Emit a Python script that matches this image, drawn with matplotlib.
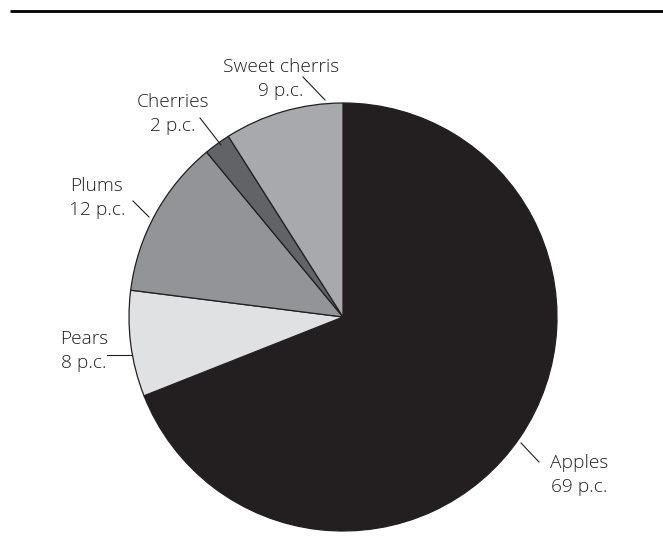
import matplotlib
matplotlib.use("Agg")
import matplotlib.pyplot as plt

# Data (clockwise from 12 o'clock)
categories = ["Apples", "Pears", "Plums", "Cherries", "Sweet cherris"]
values = [69, 8, 12, 2, 9]
value_labels = ["69 p.c.", "8 p.c.", "12 p.c.", "2 p.c.", "9 p.c."]
colors = ["#231f20", "#e0e1e3", "#929497", "#626366", "#a8a9ac"]

# Layout (pixel coordinates): label centre x, first baseline y
label_pos = [(579, 468), (84, 344), (97, 191), (173, 107), (281, 72)]
line_gap = 24
leaders = [((521, 443), (539, 462)),
           ((132, 355), (107, 355)),
           ((149, 217), (133, 201)),
           ((221, 145), (200, 118)),
           ((325, 100), (303, 77))]

W, H = 663, 554
fig = plt.figure(figsize=(W / 100, H / 100), dpi=100)
ax = fig.add_axes([0, 0, 1, 1])
ax.set_xlim(0, W)
ax.set_ylim(H, 0)
ax.set_aspect("equal")
ax.axis("off")

# top rule
ax.plot([10, W], [11, 11], color="black", lw=2.0, solid_capstyle="butt")

ax.pie(values, colors=colors, center=(343, 317), radius=214,
       startangle=-90, counterclock=True,
       wedgeprops=dict(edgecolor="#231f20", linewidth=0.9), frame=True)
ax.set_xlim(0, W)
ax.set_ylim(H, 0)
ax.axis("off")

txt_color = "#231f20"
for name, val, (x, y) in zip(categories, value_labels, label_pos):
    ax.text(x, y, name, ha="center", va="baseline", fontsize=13.8,
            family="Open Sans", weight="light", color=txt_color)
    ax.text(x, y + line_gap, val, ha="center", va="baseline", fontsize=13.8,
            family="Open Sans", weight="light", color=txt_color)

for (p1, p2) in leaders:
    ax.plot([p1[0], p2[0]], [p1[1], p2[1]], color=txt_color, lw=0.8)

fig.savefig("out.png", dpi=100)
